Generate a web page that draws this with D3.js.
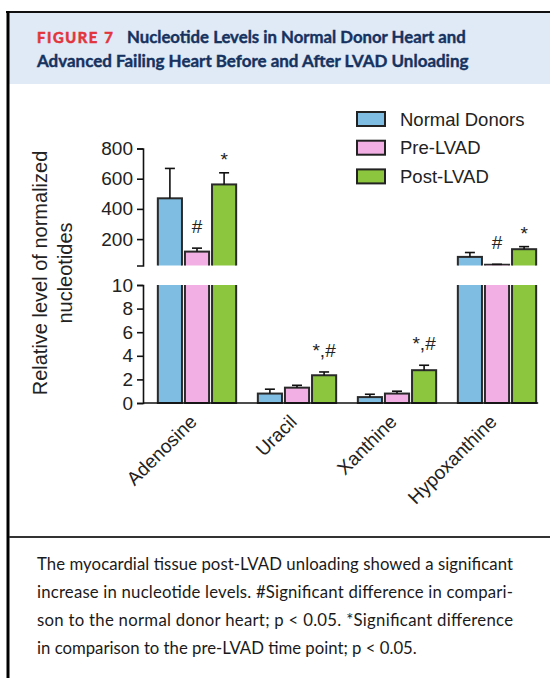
<!DOCTYPE html>
<html>
<head>
<meta charset="utf-8">
<script src="https://cdn.jsdelivr.net/npm/d3@7"></script>
<style>
  body { margin: 0; background: #fff; }
  svg { display: block; }
</style>
</head>
<body>
<svg id="chart" width="550" height="678"></svg>
<script>
// values (mean, SEM)
var nucleotides = ["Adenosine", "Uracil", "Xanthine", "Hypoxanthine"]
var groups = ["Normal Donors", "Pre-LVAD", "Post-LVAD"]
var normalMean = [470, 0.8, 0.5, 82]
var normalSem = [198, 0.37, 0.24, 29]
var preMean = [117, 1.3, 0.8, 30]
var preSem = [23, 0.2, 0.2, 3]
var postMean = [562, 2.35, 2.78, 133]
var postSem = [77, 0.28, 0.42, 17]
var normalMarks = ["", "", "", ""]
var preMarks = ["#", "", "", "#"]
var postMarks = ["*", "*,#", "*,#", "*"]
var upperTicks = [200, 400, 600, 800]
var lowerTicks = [0, 2, 4, 6, 8, 10]

var colors = {"Normal Donors": "#7fbde3", "Pre-LVAD": "#f1afe3", "Post-LVAD": "#8cc63e"}

var captionLines = [
  "The myocardial tissue post-LVAD unloading showed a significant",
  "increase in nucleotide levels. #Significant difference in compari-",
  "son to the normal donor heart; p < 0.05. *Significant difference",
  "in comparison to the pre-LVAD time point; p < 0.05."
]

var svg = d3.select("#chart")
var chartFont = "'Liberation Sans', Arial, sans-serif"

// frame + header band
svg.append("rect").attr("x", 9).attr("y", 13).attr("width", 541).attr("height", 71).attr("fill", "#dfeaf6")
svg.append("line").attr("x1", 6).attr("x2", 550).attr("y1", 12).attr("y2", 12).attr("stroke", "#111").attr("stroke-width", 2)
svg.append("line").attr("x1", 8).attr("x2", 8).attr("y1", 11).attr("y2", 678).attr("stroke", "#000").attr("stroke-width", 3)
svg.append("line").attr("x1", 9).attr("x2", 550).attr("y1", 537).attr("y2", 537).attr("stroke", "#333").attr("stroke-width", 2)

function fit(sel, w) {
  var len = sel.node().getComputedTextLength()
  var fs = parseFloat(sel.style("font-size"))
  sel.style("font-size", (fs * w / len) + "px")
}

var fig = svg.append("text").attr("x", 37).attr("y", 43)
  .style("font-family", "Lato, 'Open Sans', sans-serif").style("font-weight", 700)
  .style("font-size", "14px").attr("letter-spacing", 1.6).attr("fill", "#e2343c")
  .attr("stroke", "#e2343c").attr("stroke-width", 0.6)
  .text("FIGURE 7")
fit(fig, 78)

var t1 = svg.append("text").attr("x", 127).attr("y", 43)
  .style("font-family", "Lato, 'Open Sans', sans-serif").style("font-weight", 700)
  .style("font-size", "15px").attr("fill", "#16325f")
  .attr("stroke", "#16325f").attr("stroke-width", 0.4)
  .text("Nucleotide Levels in Normal Donor Heart and")
fit(t1, 339)
var t2 = svg.append("text").attr("x", 37).attr("y", 67)
  .style("font-family", "Lato, 'Open Sans', sans-serif").style("font-weight", 700)
  .style("font-size", "15px").attr("fill", "#16325f")
  .attr("stroke", "#16325f").attr("stroke-width", 0.4)
  .text("Advanced Failing Heart Before and After LVAD Unloading")
fit(t2, 432)

// caption
var cap = svg.append("g").attr("fill", "#1a1a1a")
var capText = cap.selectAll("text").data(captionLines).enter().append("text")
  .attr("x", 37)
  .attr("y", function(d, i) { return 570 + i * 28 })
  .style("font-family", "Lato, 'Open Sans', sans-serif")
  .style("font-size", "16px")
  .text(function(d) { return d })
// size from the last (non justified) line, then justify the others
var last = capText.filter(function(d, i) { return i === 3 })
fit(last, 380)
capText.style("font-size", last.style("font-size"))
capText.filter(function(d, i) { return i < 3 })
  .attr("textLength", 476).attr("lengthAdjust", "spacing")

// scales
var x0 = d3.scaleBand().domain(nucleotides).range([147, 547])
var x1 = d3.scaleBand().domain(groups).range([0, x0.bandwidth()]).paddingInner(0.11).paddingOuter(0.4)
var yHi = d3.scaleLinear().domain([25, 800]).range([265.5, 148.5])
var yLo = d3.scaleLinear().domain([0, 10]).range([403, 285])
var axisX = 143

var defs = svg.append("defs")
defs.append("clipPath").attr("id", "clipHi").append("rect")
  .attr("x", axisX).attr("y", 100).attr("width", 410).attr("height", yHi(25) - 100)
defs.append("clipPath").attr("id", "clipLo").append("rect")
  .attr("x", axisX).attr("y", yLo(10)).attr("width", 410).attr("height", yLo(0) - yLo(10) + 2)

var rows = []
nucleotides.forEach(function(n, i) {
  rows.push({n: n, g: groups[0], v: normalMean[i], e: normalSem[i], m: normalMarks[i]})
  rows.push({n: n, g: groups[1], v: preMean[i], e: preSem[i], m: preMarks[i]})
  rows.push({n: n, g: groups[2], v: postMean[i], e: postSem[i], m: postMarks[i]})
})

var g = svg.append("g")

// upper segment bars
g.append("g").attr("clip-path", "url(#clipHi)")
  .selectAll("rect").data(rows.filter(function(d) { return d.v > 25 })).enter().append("rect")
  .attr("x", function(d) { return x0(d.n) + x1(d.g) })
  .attr("width", x1.bandwidth())
  .attr("y", function(d) { return yHi(d.v) })
  .attr("height", function(d) { return yHi(25) - yHi(d.v) + 5 })
  .attr("fill", function(d) { return colors[d.g] })
  .attr("stroke", "#2a2a2a").attr("stroke-width", 2)

// lower segment bars
g.append("g").attr("clip-path", "url(#clipLo)")
  .selectAll("rect").data(rows).enter().append("rect")
  .attr("x", function(d) { return x0(d.n) + x1(d.g) })
  .attr("width", x1.bandwidth())
  .attr("y", function(d) { return yLo(Math.min(d.v, 12)) })
  .attr("height", function(d) { return yLo(0) - yLo(Math.min(d.v, 12)) })
  .attr("fill", function(d) { return colors[d.g] })
  .attr("stroke", "#2a2a2a").attr("stroke-width", 2)

function ys(d) { return d.v > 10 ? yHi : yLo }

// error bars (upper whisker only)
var eb = g.append("g").attr("stroke", "#111").attr("stroke-width", 1.6)
rows.forEach(function(d) {
  var y = ys(d)
  var cx = x0(d.n) + x1(d.g) + x1.bandwidth() / 2
  eb.append("line").attr("x1", cx).attr("x2", cx).attr("y1", y(d.v)).attr("y2", y(d.v + d.e))
  eb.append("line").attr("x1", cx - 5).attr("x2", cx + 5).attr("y1", y(d.v + d.e)).attr("y2", y(d.v + d.e))
})

// significance marks
g.append("g").attr("fill", "#222").attr("text-anchor", "middle")
  .selectAll("text").data(rows.filter(function(d) { return d.m !== "" })).enter().append("text")
  .attr("x", function(d) { return x0(d.n) + x1(d.g) + x1.bandwidth() / 2 })
  .attr("y", function(d) { return ys(d)(d.v + d.e) - (d.m.indexOf("#") >= 0 ? 15 : 7) })
  .style("font-family", chartFont).style("font-size", "19px")
  .text(function(d) { return d.m })

// axes
function styleAxis(a, fs) {
  a.selectAll("path, line").attr("stroke", "#111").attr("stroke-width", 1.6)
  a.selectAll("text").style("font-family", chartFont).style("font-size", fs + "px").attr("fill", "#222")
}
var ayHi = svg.append("g").attr("transform", "translate(" + axisX + ",0)")
  .call(d3.axisLeft(yHi).tickValues(upperTicks).tickSize(6).tickPadding(4))
styleAxis(ayHi, 19)
var ayLo = svg.append("g").attr("transform", "translate(" + axisX + ",0)")
  .call(d3.axisLeft(yLo).tickValues(lowerTicks).tickSize(6).tickPadding(4))
styleAxis(ayLo, 19)

var ax = svg.append("g").attr("transform", "translate(0," + yLo(0) + ")")
  .call(d3.axisBottom(x0).tickSize(0))
ax.select(".domain").remove()
ax.append("line").attr("x1", axisX).attr("x2", x0(nucleotides[3]) + x1(groups[2]) + x1.bandwidth() + 2)
  .attr("y1", 0).attr("y2", 0)
styleAxis(ax, 19)
ax.selectAll(".tick text")
  .attr("text-anchor", "end")
  .attr("x", 0).attr("y", 0).attr("dy", 0)
  .attr("transform", "translate(1,20) rotate(-45)")

// y title
var yt = svg.append("g").attr("fill", "#222").attr("text-anchor", "middle")
  .style("font-family", chartFont).style("font-size", "20px")
yt.append("text").attr("transform", "translate(47,273) rotate(-90)").text("Relative level of normalized")
yt.append("text").attr("transform", "translate(72,273) rotate(-90)").text("nucleotides")

// legend
var leg = svg.append("g").attr("transform", "translate(357,112)")
var li = leg.selectAll("g").data(groups).enter().append("g")
  .attr("transform", function(d, i) { return "translate(0," + (i * 28.7) + ")" })
li.append("rect").attr("width", 28).attr("height", 14)
  .attr("fill", function(d) { return colors[d] }).attr("stroke", "#222").attr("stroke-width", 2)
li.append("text").attr("x", 43).attr("y", 13.5)
  .style("font-family", chartFont).style("font-size", "18.5px").attr("fill", "#222")
  .text(function(d) { return d })
</script>
</body>
</html>
